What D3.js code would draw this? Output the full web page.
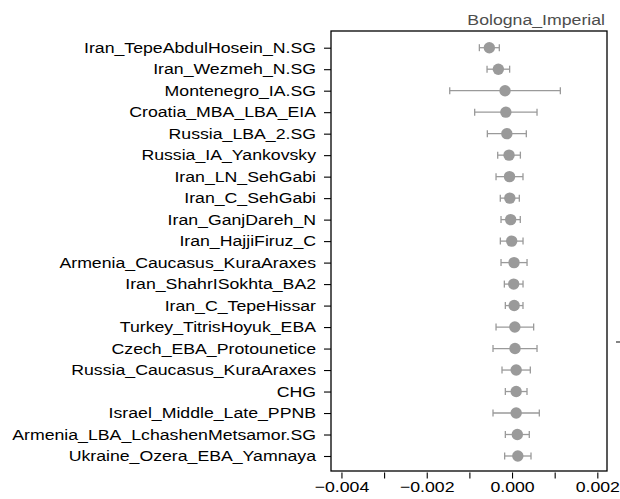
<!DOCTYPE html>
<html>
<head>
<meta charset="utf-8">
<script src="https://cdn.jsdelivr.net/npm/d3@7"></script>
<style>
  html, body { margin: 0; padding: 0; background: #fff; }
  svg { display: block; font-family: "Liberation Sans", Arial, sans-serif; }
</style>
</head>
<body>
<svg id="chart" width="620" height="499"></svg>
<script>
// Populations, top to bottom
const populations = [
  "Iran_TepeAbdulHosein_N.SG",
  "Iran_Wezmeh_N.SG",
  "Montenegro_IA.SG",
  "Croatia_MBA_LBA_EIA",
  "Russia_LBA_2.SG",
  "Russia_IA_Yankovsky",
  "Iran_LN_SehGabi",
  "Iran_C_SehGabi",
  "Iran_GanjDareh_N",
  "Iran_HajjiFiruz_C",
  "Armenia_Caucasus_KuraAraxes",
  "Iran_ShahrISokhta_BA2",
  "Iran_C_TepeHissar",
  "Turkey_TitrisHoyuk_EBA",
  "Czech_EBA_Protounetice",
  "Russia_Caucasus_KuraAraxes",
  "CHG",
  "Israel_Middle_Late_PPNB",
  "Armenia_LBA_LchashenMetsamor.SG",
  "Ukraine_Ozera_EBA_Yamnaya"
];

// Point estimates
const estimates = [
  -0.000532, -0.000321, -0.000164, -0.000145, -0.000122,
  -0.000070, -0.000059, -0.000052, -0.000032, -0.000008,
   0.000047,  0.000039,  0.000050,  0.000066,  0.000070,
   0.000097,  0.000097,  0.000097,  0.000124,  0.000136
];

// Standard errors (bars span estimate +/- se)
const stdErrors = [
  0.000234, 0.000265, 0.001297, 0.000731, 0.000457,
  0.000266, 0.000316, 0.000223, 0.000226, 0.000266,
  0.000305, 0.000219, 0.000207, 0.000441, 0.000516,
  0.000332, 0.000254, 0.000543, 0.000281, 0.000309
];

const xTicks = [-0.004, -0.002, 0.000, 0.002];
const xMinorTicks = [-0.003, -0.001, 0.001];
const panelTitle = "Bologna_Imperial";

const rows = populations.map((name, i) => ({
  name, est: estimates[i], se: stdErrors[i]
}));

const svg = d3.select("#chart");
const box = { left: 331, right: 607, top: 31, bottom: 471 };
const grey = "#9a9a9a";
const fontSize = 15;
const stretch = 1.18;   // text is set slightly wide

const x = d3.scaleLinear()
  .domain([-0.004245, 0.002227])
  .range([box.left, box.right]);

const y = d3.scalePoint()
  .domain(populations)
  .range([47.7, 456])
  .padding(0);

// Panel title
svg.append("text")
  .attr("x", 605 / stretch)
  .attr("y", 25)
  .attr("transform", `scale(${stretch},1)`)
  .attr("text-anchor", "end")
  .attr("font-size", fontSize)
  .attr("fill", "#4d4d4d")
  .text(panelTitle);

// Error bars and points
const g = svg.append("g");
const bars = g.selectAll("g.row").data(rows).join("g").attr("class", "row");
bars.append("line")
  .attr("x1", d => x(d.est - d.se))
  .attr("x2", d => x(d.est + d.se))
  .attr("y1", d => y(d.name)).attr("y2", d => y(d.name))
  .attr("stroke", grey).attr("stroke-width", 1.3);
bars.append("line")
  .attr("x1", d => x(d.est - d.se)).attr("x2", d => x(d.est - d.se))
  .attr("y1", d => y(d.name) - 3.5).attr("y2", d => y(d.name) + 3.5)
  .attr("stroke", grey).attr("stroke-width", 1.3);
bars.append("line")
  .attr("x1", d => x(d.est + d.se)).attr("x2", d => x(d.est + d.se))
  .attr("y1", d => y(d.name) - 3.5).attr("y2", d => y(d.name) + 3.5)
  .attr("stroke", grey).attr("stroke-width", 1.3);
bars.append("circle")
  .attr("cx", d => x(d.est))
  .attr("cy", d => y(d.name))
  .attr("r", 5.7)
  .attr("fill", grey);

// Panel frame
svg.append("rect")
  .attr("x", box.left).attr("y", box.top)
  .attr("width", box.right - box.left)
  .attr("height", box.bottom - box.top)
  .attr("fill", "none")
  .attr("stroke", "#000")
  .attr("stroke-width", 1.3);

// Y axis (population labels)
const yAxis = svg.append("g")
  .attr("transform", `translate(${box.left},0)`)
  .call(d3.axisLeft(y).tickSize(7).tickPadding(8));
yAxis.select(".domain").remove();
yAxis.selectAll("line").attr("stroke", "#000").attr("stroke-width", 1.1);
yAxis.selectAll("text")
  .attr("x", -15 / stretch)
  .attr("transform", `scale(${stretch},1)`)
  .attr("font-size", fontSize)
  .attr("font-family", "Liberation Sans, Arial, sans-serif")
  .attr("fill", "#000");

// X axis, set slightly below the frame
const xAxisG = svg.append("g")
  .attr("transform", `translate(0,${box.bottom + 1.5})`);
xAxisG.call(d3.axisBottom(x)
  .tickValues(xTicks.concat(xMinorTicks))
  .tickSize(6)
  .tickPadding(3)
  .tickFormat(d => xTicks.some(t => Math.abs(t - d) < 1e-9) ? d3.format(".3f")(d).replace("-", "\u2212") : ""));
xAxisG.select(".domain").remove();
xAxisG.selectAll("line").attr("stroke", "#000").attr("stroke-width", 1.1);
xAxisG.selectAll("text")
  .attr("transform", `scale(${stretch},1)`)
  .attr("font-size", fontSize)
  .attr("font-family", "Liberation Sans, Arial, sans-serif")
  .attr("fill", "#000");

// Edge of the neighbouring panel's tick mark
svg.append("line")
  .attr("x1", 616).attr("x2", 620)
  .attr("y1", 342).attr("y2", 342)
  .attr("stroke", "#333").attr("stroke-width", 1.2);
</script>
</body>
</html>
